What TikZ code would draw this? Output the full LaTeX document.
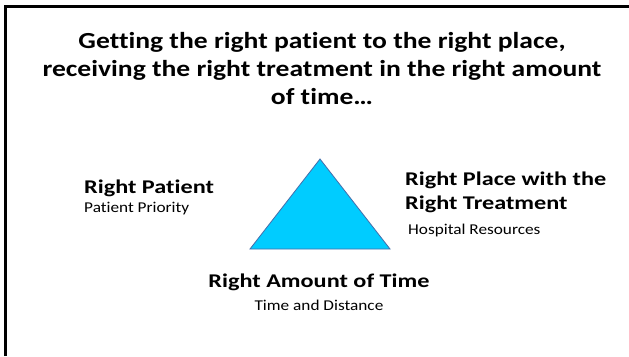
\documentclass[tikz,border=0pt]{standalone}
\usepackage{fontspec}
\setmainfont{Carlito}[FakeStretch=1.25,Ligatures=NoCommon]
\newfontfamily\headfont{Carlito}[FakeStretch=1.2,Ligatures=NoCommon]
\newfontfamily\notefont{Carlito}[FakeStretch=1.15,Ligatures=NoCommon]
\definecolor{trifill}{RGB}{0,204,255}
\definecolor{triline}{RGB}{70,110,170}
\begin{document}
\begin{tikzpicture}[x=1pt,y=-1pt,
  headline/.style={font=\headfont\bfseries\fontsize{23}{28}\selectfont,anchor=base,inner sep=0pt},
  bigtext/.style={font=\bfseries\fontsize{19.4}{24}\selectfont,inner sep=0pt},
  smalltext/.style={font=\notefont\fontsize{15}{18}\selectfont,inner sep=0pt}]
\useasboundingbox (0,0) rectangle (629,356);
\fill[white] (0,0) rectangle (629,356);
\draw[line width=3pt] (5.5,356) -- (5.5,6.5) -- (629,6.5);
\node[headline] (line1) at (322,48) {Getting the right patient to the right place,};
\node[headline] (line2) at (322,76) {receiving the right treatment in the right amount};
\node[headline] (line3) at (322,104) {of time…};
\coordinate (apex) at (320,159);
\coordinate (right) at (390,249);
\coordinate (left) at (250,249);
\filldraw[fill=trifill,draw=triline,line width=0.8pt] (apex) -- (right) -- (left) -- cycle;
\node[bigtext,anchor=base west] (patient) at (84,193) {Right Patient};
\node[smalltext,anchor=base west] (priority) at (84,212) {Patient Priority};
\node[bigtext,anchor=base west] (place) at (405,185) {Right Place with the};
\node[bigtext,anchor=base west] (treatment) at (405,209) {Right Treatment};
\node[smalltext,anchor=base west] (resources) at (408,234) {Hospital Resources};
\node[bigtext,anchor=base] (time) at (319,287) {Right Amount of Time};
\node[smalltext,anchor=base] (distance) at (319,310) {Time and Distance};
\end{tikzpicture}
\end{document}
